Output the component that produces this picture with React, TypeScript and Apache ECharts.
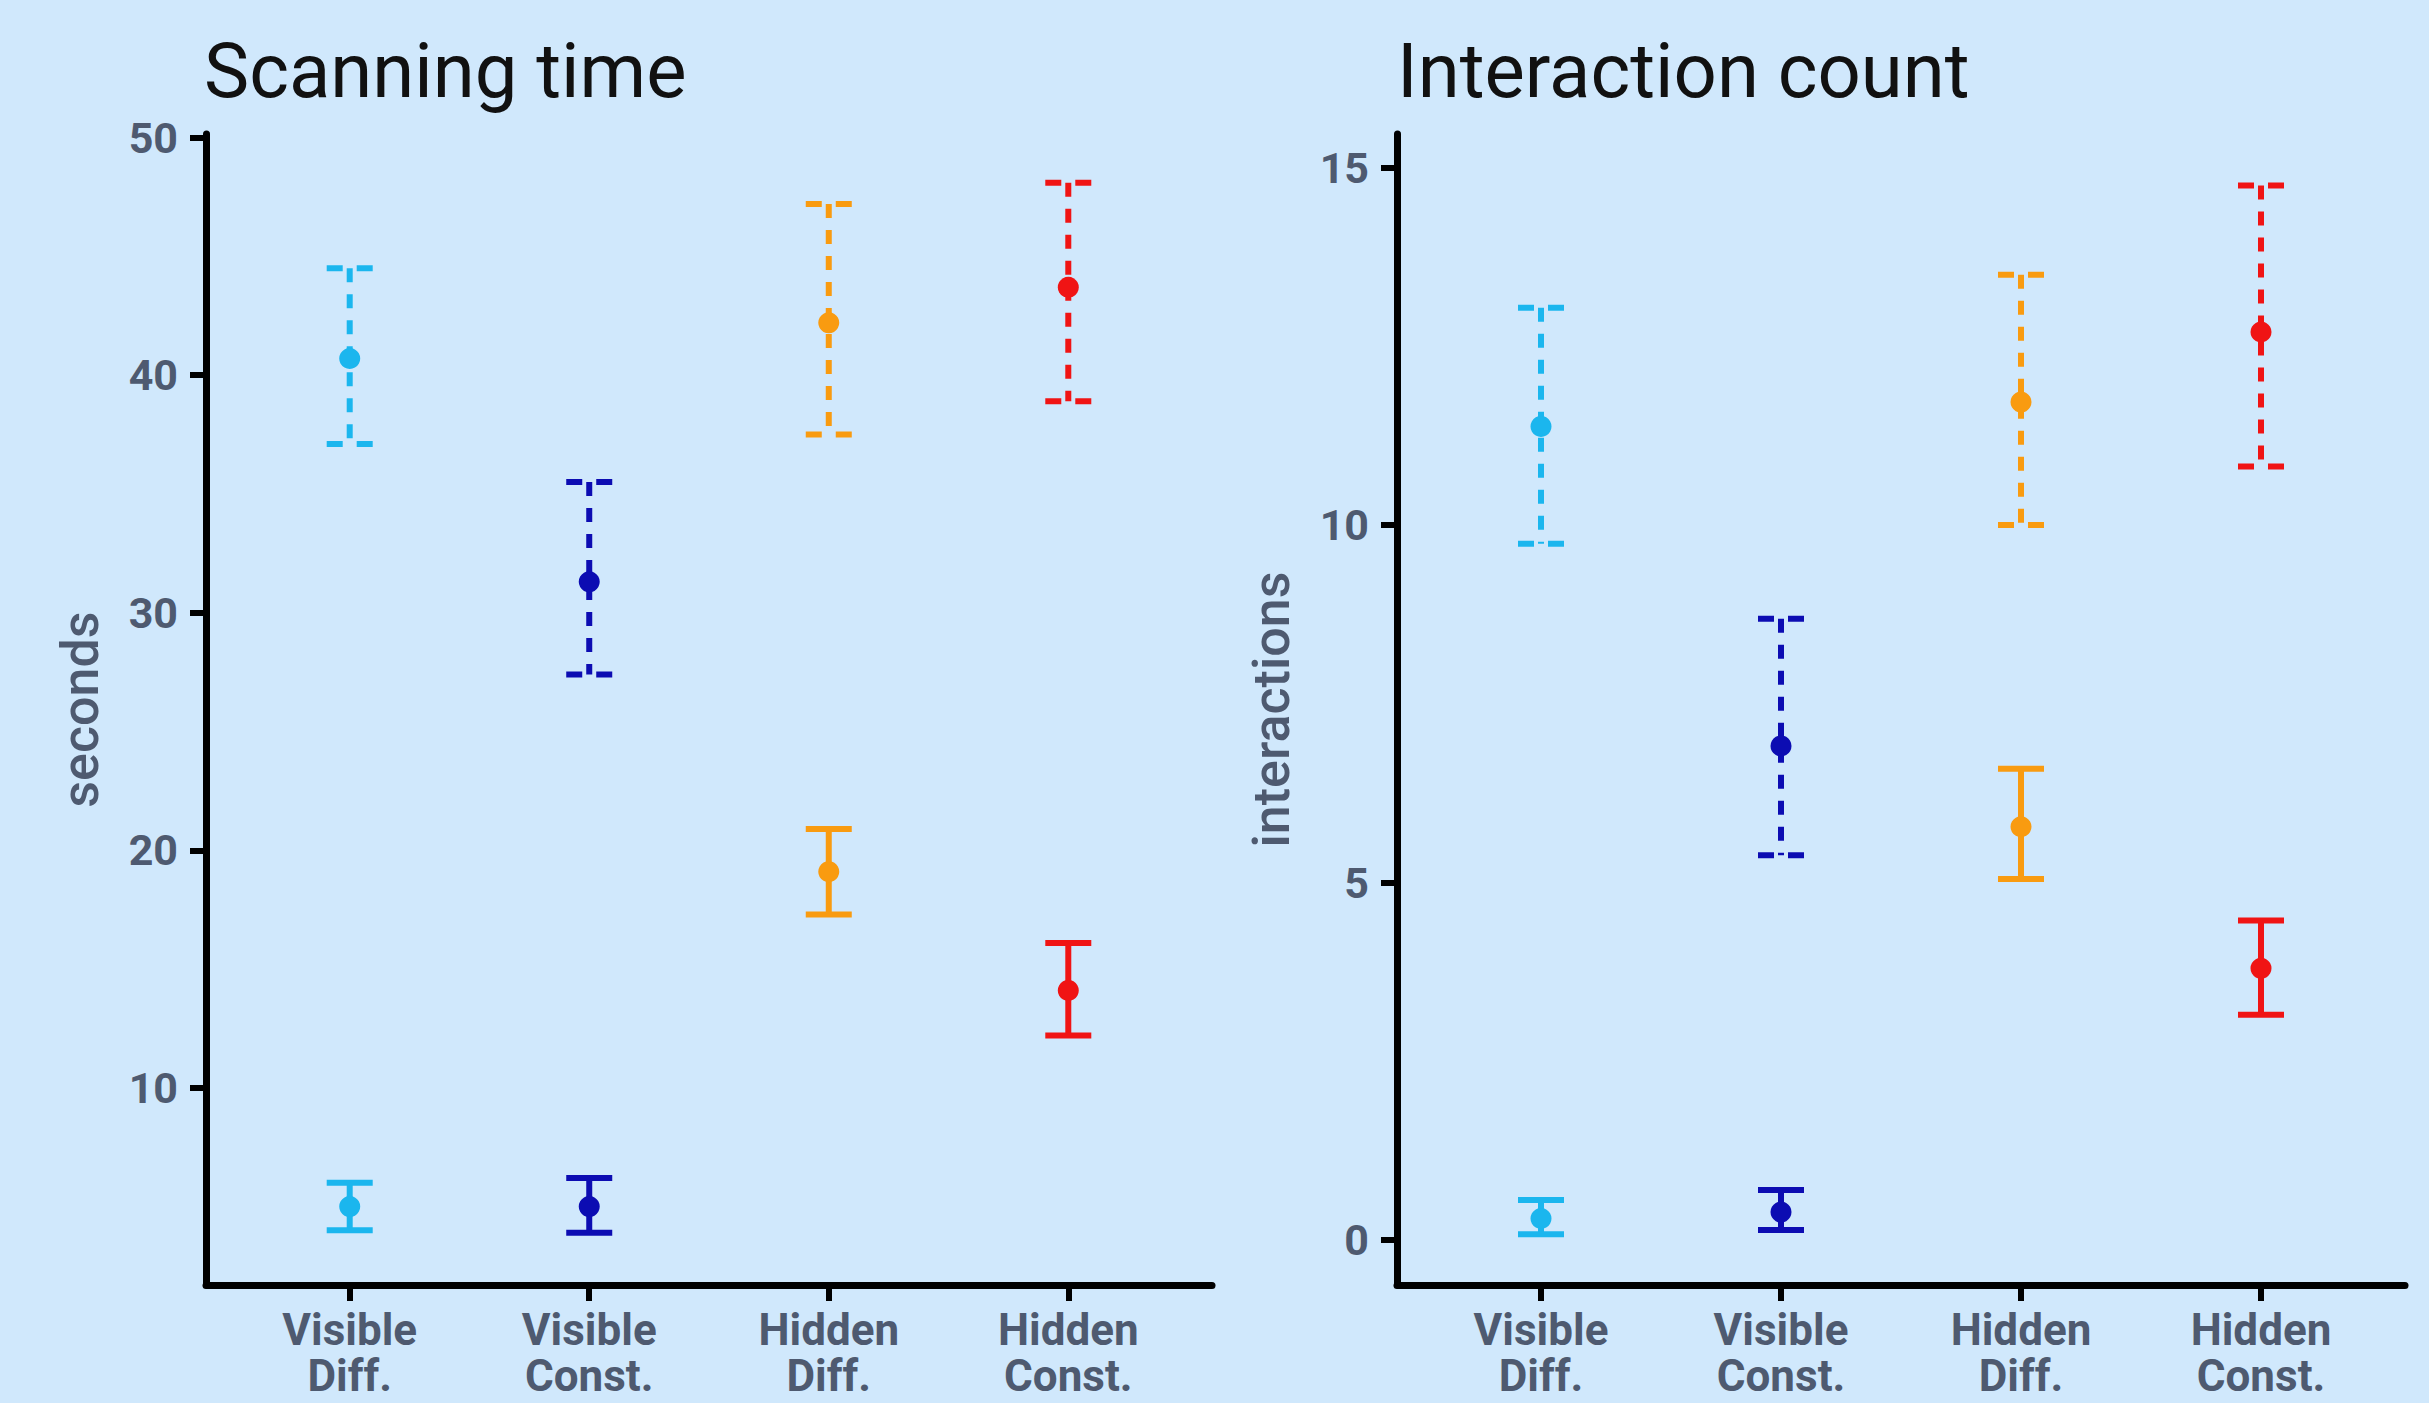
import React, { useEffect, useRef } from "react";
import * as echarts from "echarts";

// ---- data ----
const categories = ["Visible\nDiff.", "Visible\nConst.", "Hidden\nDiff.", "Hidden\nConst."];
const colors = ["#1bb6ee", "#0c0cb2", "#f99b10", "#f01414"];

// Scanning time (seconds)
const scanDashedMean = [40.7, 31.3, 42.2, 43.7];
const scanDashedLow = [37.1, 27.4, 37.5, 38.9];
const scanDashedHigh = [44.5, 35.5, 47.2, 48.1];
const scanSolidMean = [5.0, 5.0, 19.1, 14.1];
const scanSolidLow = [4.0, 3.9, 17.3, 12.2];
const scanSolidHigh = [6.0, 6.2, 20.9, 16.1];

// Interaction count
const interDashedMean = [11.38, 6.91, 11.72, 12.7];
const interDashedLow = [9.74, 5.38, 10.0, 10.82];
const interDashedHigh = [13.04, 8.69, 13.5, 14.75];
const interSolidMean = [0.3, 0.39, 5.78, 3.8];
const interSolidLow = [0.08, 0.14, 5.05, 3.15];
const interSolidHigh = [0.56, 0.7, 6.59, 4.47];

const scanTicks = [10, 20, 30, 40, 50];
const interTicks = [0, 5, 10, 15];
const xPositions = [1, 2, 3, 4];

const FONT = "Roboto";
const LABEL_COLOR = "#4e5a70";

function errorSeries(idx: number, lows: number[], highs: number[], dashed: boolean) {
  return {
    type: "custom",
    xAxisIndex: idx,
    yAxisIndex: idx,
    encode: { x: 0, y: [1, 2] },
    data: lows.map((l, i) => [xPositions[i], l, highs[i]]),
    renderItem: (params: any, api: any) => {
      const x = api.value(0);
      const pLo = api.coord([x, api.value(1)]);
      const pHi = api.coord([x, api.value(2)]);
      const col = colors[params.dataIndex];
      const half = 23;
      const vStyle: any = { stroke: col, lineWidth: 6, fill: null };
      const cStyle: any = { stroke: col, lineWidth: 6, fill: null };
      if (dashed) {
        vStyle.lineDash = [14, 12];
        cStyle.lineDash = [16, 14];
      }
      return {
        type: "group",
        children: [
          { type: "line", shape: { x1: pHi[0], y1: pHi[1], x2: pLo[0], y2: pLo[1] }, style: vStyle },
          { type: "line", shape: { x1: pHi[0] - half, y1: pHi[1], x2: pHi[0] + half, y2: pHi[1] }, style: cStyle },
          { type: "line", shape: { x1: pLo[0] - half, y1: pLo[1], x2: pLo[0] + half, y2: pLo[1] }, style: cStyle },
        ],
      };
    },
  };
}

function pointSeries(idx: number, means: number[]) {
  return {
    type: "scatter",
    xAxisIndex: idx,
    yAxisIndex: idx,
    symbol: "circle",
    symbolSize: 21,
    z: 5,
    itemStyle: { opacity: 1 },
    data: means.map((m, i) => ({ value: [xPositions[i], m], itemStyle: { color: colors[i], opacity: 1 } })),
  };
}

function xAxis(idx: number) {
  return {
    type: "value",
    gridIndex: idx,
    min: 0.4,
    max: 4.6,
    splitLine: { show: false },
    axisLine: { show: true, onZero: false, lineStyle: { color: "#000", width: 7 } },
    axisTick: { show: true, customValues: xPositions, length: 16, lineStyle: { color: "#000", width: 6 } },
    axisLabel: {
      customValues: xPositions,
      formatter: (v: number) => categories[Math.round(v) - 1] ?? "",
      fontFamily: FONT,
      fontWeight: "bold",
      fontSize: 44,
      lineHeight: 46,
      color: LABEL_COLOR,
      margin: 22,
    },
  };
}

function yAxis(idx: number, min: number, max: number, ticks: number[], name: string) {
  return {
    type: "value",
    gridIndex: idx,
    min,
    max,
    name,
    nameLocation: "middle",
    nameRotate: 90,
    nameGap: 100,
    nameTextStyle: { fontFamily: FONT, fontWeight: 500, fontSize: 52, color: LABEL_COLOR },
    splitLine: { show: false },
    axisLine: { show: true, onZero: false, lineStyle: { color: "#000", width: 7 } },
    axisTick: { show: true, customValues: ticks, length: 16, lineStyle: { color: "#000", width: 6 } },
    axisLabel: {
      customValues: ticks,
      fontFamily: FONT,
      fontWeight: "bold",
      fontSize: 43,
      color: LABEL_COLOR,
      margin: 28,
    },
  };
}

export default function App() {
  const ref = useRef<HTMLDivElement>(null);
  useEffect(() => {
    if (!ref.current) return;
    const chart = echarts.init(ref.current, null, { renderer: "svg" });
    chart.setOption({
      animation: false,
      backgroundColor: "#d0e8fc",
      title: [
        {
          text: "Scanning time",
          left: 204,
          top: 33,
          padding: 0,
          textStyle: { fontFamily: FONT, fontWeight: "normal", fontSize: 76, color: "#111" },
        },
        {
          text: "Interaction count",
          left: 1397,
          top: 33,
          padding: 0,
          textStyle: { fontFamily: FONT, fontWeight: "normal", fontSize: 76, color: "#111" },
        },
      ],
      grid: [
        { left: 206, top: 134, width: 1006, height: 1151 },
        { left: 1397, top: 134, width: 1008, height: 1151 },
      ],
      xAxis: [xAxis(0), xAxis(1)],
      yAxis: [
        yAxis(0, 1.7, 50.15, scanTicks, "seconds"),
        yAxis(1, -0.63, 15.47, interTicks, "interactions"),
      ],
      series: [
        errorSeries(0, scanDashedLow, scanDashedHigh, true),
        errorSeries(0, scanSolidLow, scanSolidHigh, false),
        pointSeries(0, scanDashedMean),
        pointSeries(0, scanSolidMean),
        errorSeries(1, interDashedLow, interDashedHigh, true),
        errorSeries(1, interSolidLow, interSolidHigh, false),
        pointSeries(1, interDashedMean),
        pointSeries(1, interSolidMean),
      ],
    });
    return () => chart.dispose();
  }, []);
  return (
    <div
      ref={ref}
      style={{ position: "fixed", left: 0, top: 0, width: 2429, height: 1403, background: "#d0e8fc" }}
    />
  );
}
